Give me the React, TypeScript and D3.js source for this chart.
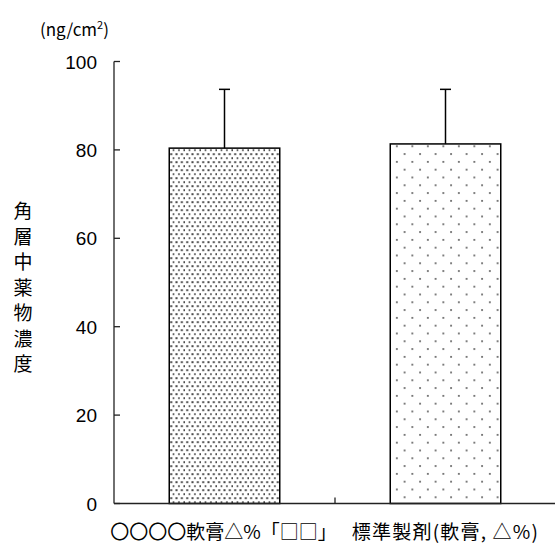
import React from "react";
import * as d3 from "d3";

const categories = ["〇〇〇〇軟膏△%「□□」", "標準製剤(軟膏, △%)"];
const means = [80.4, 81.35];
const sds = [13.3, 12.35];
const yTicks = [0, 20, 40, 60, 80, 100];
const yLabelChars = ["角", "層", "中", "薬", "物", "濃", "度"];

const W = 555;
const H = 543;

export default function App() {
  const y = d3.scaleLinear().domain([0, 100]).range([503.5, 61.5]);
  const xOuter = d3.scaleBand<string>().domain(categories).range([114, 556]);
  const x = d3
    .scaleBand<string>()
    .domain(categories)
    .range([114, 556])
    .paddingInner(0.5)
    .paddingOuter(0.25);
  const patterns = ["densedots", "sparsedots"];
  const font = "'Liberation Sans', Arial, 'Noto Sans CJK JP', sans-serif";
  const cjk = "'Noto Sans CJK JP', sans-serif";

  return (
    <svg
      width={W}
      height={H}
      style={{ position: "absolute", left: 0, top: 0, display: "block", background: "#fff" }}
    >
      <defs>
        <pattern id="densedots" patternUnits="userSpaceOnUse" width={5.33} height={8} x={169} y={0}>
          <rect x={1.2} y={1.2} width={2} height={2} fill="#4a4a4a" />
          <rect x={3.85} y={5.2} width={2} height={2} fill="#4a4a4a" />
        </pattern>
        <pattern id="sparsedots" patternUnits="userSpaceOnUse" width={15.5} height={15.6} x={392} y={2}>
          <rect x={4} y={3} width={1.7} height={1.7} fill="#555" />
          <rect x={11.75} y={10.8} width={1.7} height={1.7} fill="#555" />
        </pattern>
      </defs>

      {/* unit label */}
      <text x={40} y={36} fontFamily={cjk} fontSize={17} fill="#000">
        (ng/cm
        <tspan dy={-7} fontSize={11}>2</tspan>
        <tspan dy={7}>)</tspan>
      </text>

      {/* y axis */}
      <line x1={114} x2={114} y1={y(100)} y2={y(0)} stroke="#222" strokeWidth={1.3} />
      {yTicks.map((t) => (
        <g key={t}>
          <line x1={114} x2={120} y1={y(t)} y2={y(t)} stroke="#222" strokeWidth={1.3} />
          <text
            x={97}
            y={y(t) + 7}
            textAnchor="end"
            fontFamily={font}
            fontSize={19}
            fill="#000"
          >
            {t}
          </text>
        </g>
      ))}

      {/* y axis title vertical */}
      {yLabelChars.map((c, i) => (
        <text
          key={i}
          x={23}
          y={218 + i * 25.5}
          textAnchor="middle"
          fontFamily={cjk}
          fontSize={19}
          fill="#000"
        >
          {c}
        </text>
      ))}

      {/* bars */}
      {categories.map((c, i) => (
        <g key={c}>
          <line
            x1={x(c)! + x.bandwidth() / 2}
            x2={x(c)! + x.bandwidth() / 2}
            y1={y(means[i])}
            y2={y(means[i] + sds[i])}
            stroke="#000"
            strokeWidth={1.5}
          />
          <line
            x1={x(c)! + x.bandwidth() / 2 - 5.5}
            x2={x(c)! + x.bandwidth() / 2 + 5.5}
            y1={y(means[i] + sds[i])}
            y2={y(means[i] + sds[i])}
            stroke="#000"
            strokeWidth={1.5}
          />
          <rect
            x={x(c)!}
            y={y(means[i])}
            width={x.bandwidth()}
            height={y(0) - y(means[i])}
            fill={`url(#${patterns[i]})`}
            stroke="#000"
            strokeWidth={1.5}
          />
        </g>
      ))}

      {/* x axis */}
      <line x1={114} x2={556} y1={y(0)} y2={y(0)} stroke="#222" strokeWidth={1.3} />
      {categories.slice(1).map((c) => (
        <line key={c} x1={xOuter(c)!} x2={xOuter(c)!} y1={y(0)} y2={y(0) - 6} stroke="#222" strokeWidth={1.3} />
      ))}
      {categories.map((c, i) => (
        <text
          key={c}
          x={xOuter(c)! + xOuter.bandwidth() / 2 - (i === 0 ? 1 : 0)}
          y={539}
          textAnchor="middle"
          fontFamily={cjk}
          fontSize={19}
          letterSpacing={i === 1 ? 1.2 : 0}
          fill="#000"
        >
          {c}
        </text>
      ))}
    </svg>
  );
}
